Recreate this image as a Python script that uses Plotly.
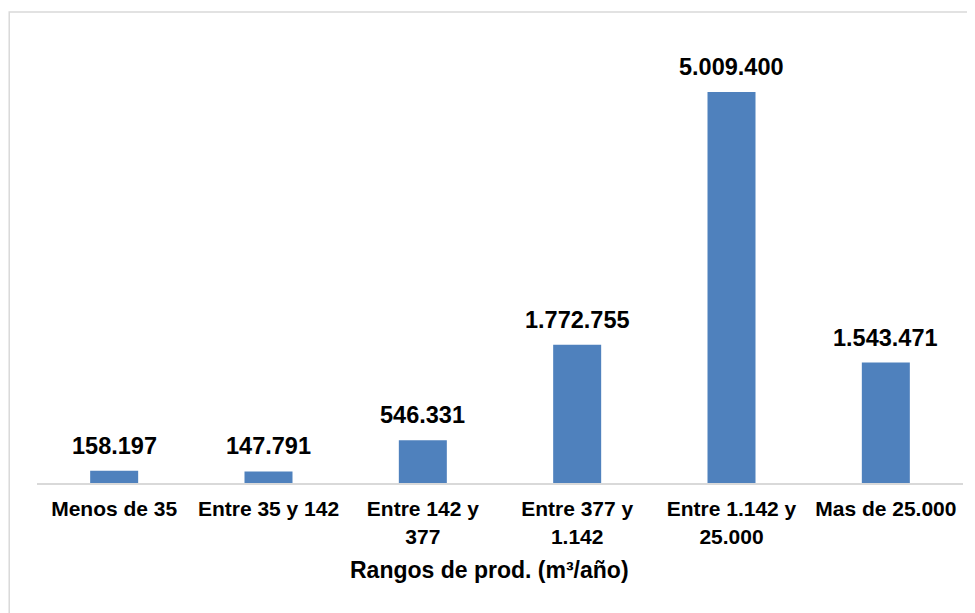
import plotly.graph_objects as go

categories = ["Menos de 35", "Entre 35 y 142", "Entre 142 y<br>377",
              "Entre 377 y<br>1.142", "Entre 1.142 y<br>25.000", "Mas de 25.000"]
values = [158197, 147791, 546331, 1772755, 5009400, 1543471]
value_labels = ["158.197", "147.791", "546.331", "1.772.755", "5.009.400", "1.543.471"]
axis_title = "Rangos de prod. (m³/año)"

FONT = "Liberation Sans, Arial, sans-serif"
BAR = "#4f81bd"

fig = go.Figure()
fig.add_trace(go.Bar(x=categories, y=values, marker=dict(color=BAR, line=dict(width=0)),
                     hoverinfo="skip"))

for c, v, t in zip(categories, values, value_labels):
    fig.add_annotation(x=c, y=v, text="<b>%s</b>" % t, showarrow=False,
                       yanchor="bottom", yshift=10,
                       font=dict(family=FONT, size=23.5, color="#000000"))

fig.add_annotation(xref="paper", yref="paper", x=0.489, y=-0.192,
                   text="<b>%s</b>" % axis_title, showarrow=False,
                   xanchor="center", yanchor="middle",
                   font=dict(family=FONT, size=23, color="#000000"))

# outer chart border
fig.add_shape(type="rect", xref="paper", yref="paper",
              x0=-0.030, x1=1.03, y0=-0.32, y1=1.0397,
              line=dict(color="#d9d9d9", width=1.5), fillcolor="rgba(0,0,0,0)", layer="below")

fig.update_layout(
    width=975, height=613,
    margin=dict(l=29, r=20, t=22, b=138),
    paper_bgcolor="white", plot_bgcolor="white",
    bargap=0.689,
    showlegend=False,
    font=dict(family=FONT, color="#000000"),
    xaxis=dict(showline=True, linecolor="#d9d9d9", linewidth=2,
               ticks="", ticklabelstandoff=6,
               tickfont=dict(family=FONT, size=21, color="#000000"),
               tickvals=categories,
               ticktext=["<b>%s</b>" % c for c in categories],
               showgrid=False, zeroline=False),
    yaxis=dict(visible=False, range=[0, 5803740], showgrid=False, zeroline=False),
)

fig.write_html("out.html")
